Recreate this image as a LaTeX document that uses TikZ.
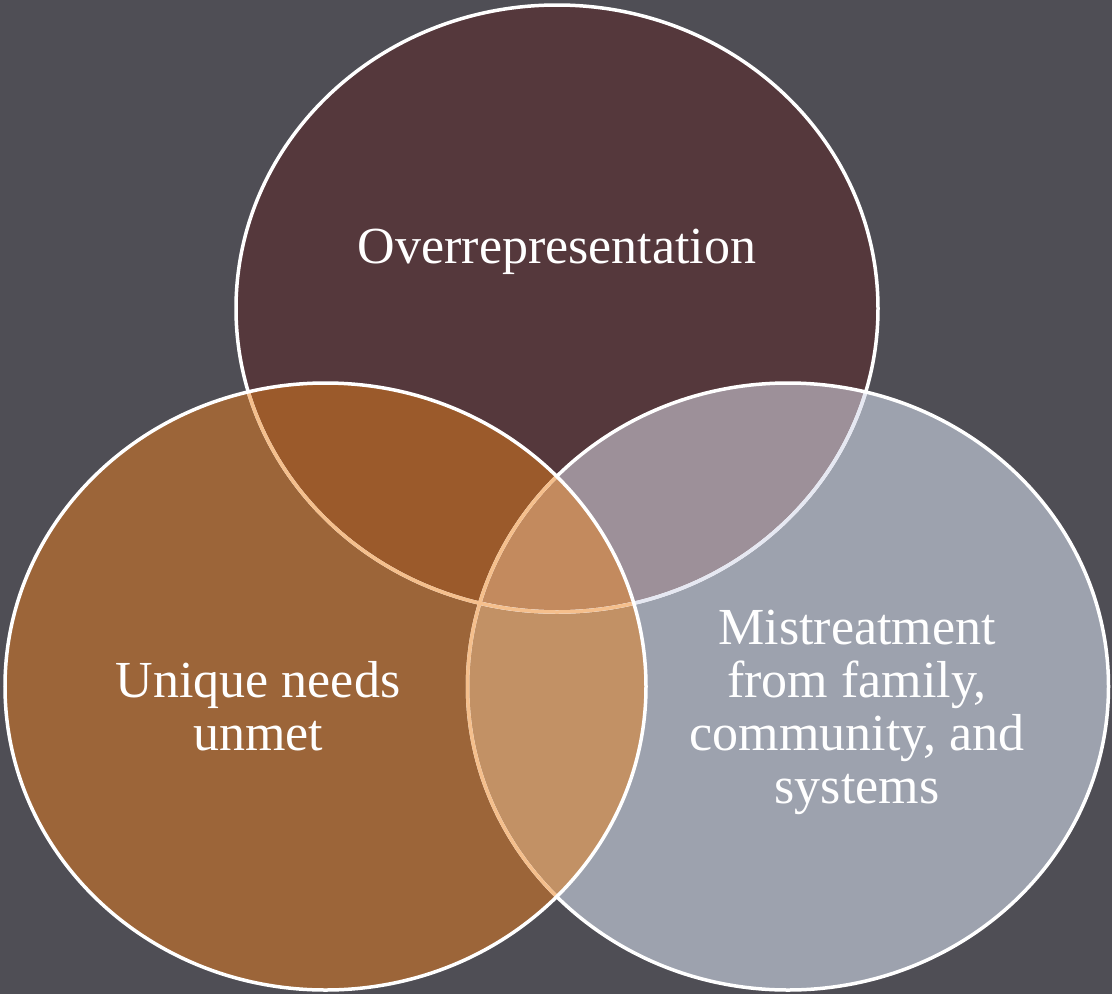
\documentclass[tikz,border=0pt]{standalone}
\usepackage{fontspec}
\setmainfont{Liberation Serif}
\definecolor{bgc}{HTML}{4F4E55}
\definecolor{topc}{HTML}{55383C}
\definecolor{rightc}{HTML}{9DA2AE}
\definecolor{leftc}{HTML}{9C6539}
\definecolor{trc}{HTML}{9D9099}
\definecolor{tlc}{HTML}{9B5A2B}
\definecolor{lrc}{HTML}{C29165}
\definecolor{triplec}{HTML}{C38A5E}
\definecolor{orstroke}{HTML}{F5BF8C}
\definecolor{lavstroke}{HTML}{E6E8F2}
\tikzset{
  ring/.style={line width=3.5pt},
  lbl/.style={text=white, inner sep=0pt, align=center, font=\fontsize{52}{53}\selectfont}
}
\begin{document}
\begin{tikzpicture}[x=1pt,y=-1pt]
\fill[bgc] (0,0) rectangle (1112,994);
\useasboundingbox (0,0) rectangle (1112,994);
\def\TopE{(557,308.5) ellipse [x radius=321, y radius=303.5]}
\def\LeftE{(325.5,686.5) ellipse [x radius=320.5, y radius=303.5]}
\def\RightE{(788,686.5) ellipse [x radius=320.5, y radius=303.5]}
% base fills
\fill[topc] \TopE;
\fill[rightc] \RightE;
\fill[leftc] \LeftE;
% overlaps
\begin{scope}\clip \TopE; \fill[trc] \RightE; \fill[tlc] \LeftE; \end{scope}
\begin{scope}\clip \RightE; \fill[lrc] \LeftE; \end{scope}
\begin{scope}\clip \TopE; \clip \RightE; \fill[triplec] \LeftE; \end{scope}
% strokes
\draw[ring, white] \TopE;
\begin{scope}\clip \RightE; \draw[ring, lavstroke] \TopE; \end{scope}
\draw[ring, white] \RightE;
\begin{scope}\clip \LeftE; \draw[ring, orstroke] \TopE; \draw[ring, orstroke] \RightE; \end{scope}
\draw[ring, white] \LeftE;
% labels
\node[lbl, anchor=base] (over) at (557,263) {Overrepresentation};
\node[lbl] (unique) at (258,706) {Unique needs\\unmet};
\node[lbl] (mis) at (857,712) {Mistreatment\\from family,\\community, and\\systems};
\end{tikzpicture}
\end{document}
